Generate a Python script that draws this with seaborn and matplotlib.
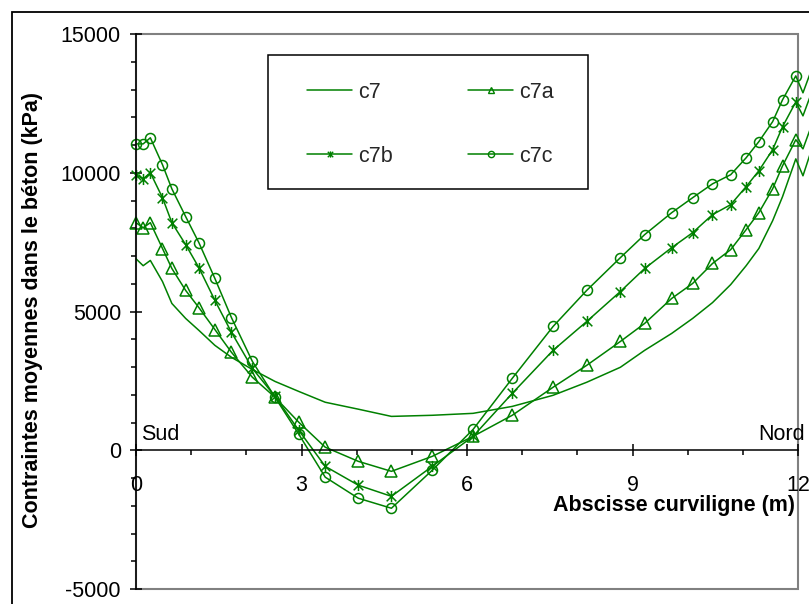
import numpy as np
import pandas as pd
import matplotlib
matplotlib.use("Agg")
import matplotlib.pyplot as plt
import seaborn as sns
from matplotlib.path import Path
from matplotlib.patches import Rectangle
from matplotlib.ticker import MultipleLocator

# ---------------- data ----------------
X = [0.0, 0.13, 0.26, 0.48, 0.65, 0.90, 1.14, 1.43, 1.73, 2.11, 2.52, 2.95, 3.43, 4.03,
     4.63, 5.37, 6.11, 6.82, 7.56, 8.17, 8.78, 9.22, 9.71, 10.09, 10.45, 10.78, 11.06,
     11.29, 11.54, 11.72, 11.96]
X_EXT = [12.09, 12.25]

C7 = [6900, 6650, 6840, 6080, 5290, 4750, 4320, 3780, 3350, 2910, 2480, 2120, 1730, 1480,
      1220, 1260, 1330, 1580, 1980, 2450, 2990, 3600, 4210, 4750, 5320, 5970, 6650, 7270,
      8270, 9140, 10500]
C7A = [8200, 8020, 8200, 7270, 6550, 5760, 5140, 4350, 3530, 2630, 1910, 1010, 110, -400,
       -760, -220, 500, 1260, 2270, 3060, 3920, 4570, 5470, 6010, 6730, 7230, 7950, 8560,
       9420, 10250, 11190]
C7B = [9930, 9780, 10000, 9100, 8200, 7410, 6580, 5400, 4250, 2950, 1940, 720, -580, -1260,
       -1660, -580, 500, 2050, 3600, 4640, 5720, 6550, 7300, 7840, 8490, 8850, 9500, 10070,
       10830, 11660, 12550]
C7C = [11040, 11040, 11260, 10290, 9420, 8420, 7480, 6190, 4780, 3200, 1910, 580, -970, -1730,
       -2090, -720, 750, 2590, 4460, 5760, 6940, 7770, 8560, 9100, 9600, 9930, 10540, 11120,
       11840, 12630, 13490]
C7_EXT = [9890, 10860]
C7A_EXT = [10860, 11730]
C7B_EXT = [12050, 12910]
C7C_EXT = [12880, 13740]

SERIES = ["c7", "c7a", "c7b", "c7c"]
XTICKS_MAJOR = 3
YTICKS_MAJOR = 5000

# ---------------- style ----------------
sns.set_theme(style="white")
plt.rcParams['font.family'] = ['Liberation Sans', 'DejaVu Sans']
plt.rcParams['axes.unicode_minus'] = False
FS = 15.5
GREEN = '#008000'
W, H = 809, 604

star = Path([(-1, -1), (1, 1), (-1, 1), (1, -1), (0, -1.15), (0, 1.15)],
            [Path.MOVETO, Path.LINETO, Path.MOVETO, Path.LINETO, Path.MOVETO, Path.LINETO])

fig = plt.figure(figsize=(W / 100, H / 100), dpi=100)
fig.patch.set_facecolor('white')
ax = fig.add_axes([136 / W, 15 / H, 662 / W, 555 / H])
ax.set_facecolor('white')

data_map = {
    "c7": (C7, C7_EXT, None, 0),
    "c7a": (C7A, C7A_EXT, '^', 8),
    "c7b": (C7B, C7B_EXT, star, 8),
    "c7c": (C7C, C7C_EXT, 'o', 7.2),
}
lines = {}
for name in SERIES:
    vals, ext, mk, ms = data_map[name]
    df = pd.DataFrame({"x": list(X) + list(X_EXT), "y": list(vals) + list(ext)})
    kw = dict(color=GREEN, linewidth=1.1, clip_on=False, legend=False)
    if mk is not None:
        kw.update(marker=mk, markersize=ms, markevery=list(range(len(X))))
    sns.lineplot(data=df, x="x", y="y", ax=ax, **kw)
    ln = ax.lines[-1]
    ln.set_label(name)
    if mk is not None:
        ln.set_markerfacecolor('none')
        ln.set_markeredgecolor(GREEN)
        ln.set_markeredgewidth(1.1)
    lines[name] = ln

# axes frame
ax.add_patch(Rectangle((0, 0), 1, 1, transform=ax.transAxes, fill=False,
                       ec='#808080', lw=1.5, clip_on=False, zorder=0.5))
ax.set_xlim(0, 12)
ax.set_ylim(-5000, 15000)
ax.spines['bottom'].set_position(('data', 0))
for s in ['top', 'right']:
    ax.spines[s].set_visible(False)
for s in ['left', 'bottom']:
    ax.spines[s].set_color('black')
    ax.spines[s].set_linewidth(1.1)
    ax.spines[s].set_zorder(3)

ax.xaxis.set_major_locator(MultipleLocator(XTICKS_MAJOR))
ax.xaxis.set_minor_locator(MultipleLocator(1))
ax.yaxis.set_major_locator(MultipleLocator(YTICKS_MAJOR))
ax.yaxis.set_minor_locator(MultipleLocator(1000))
ax.tick_params(which='both', bottom=True, left=True, top=False, right=False)
ax.tick_params(which='major', direction='inout', length=8.6, width=1.1, color='black',
               labelsize=FS, labelcolor='black')
ax.tick_params(which='minor', direction='out', length=3.6, width=1.1, color='black')
ax.tick_params(axis='x', which='major', pad=13.7)
ax.tick_params(axis='y', which='major', pad=6.5)
ax.grid(False)

ax.set_xlabel('Abscisse curviligne (m)', fontsize=FS, fontweight='bold', color='black',
              ha='right', va='center')
ax.xaxis.set_label_coords((795 - 136) / 662, (589 - 506) / 555)
ax.set_ylabel('Contraintes moyennes dans le béton (kPa)', fontsize=FS, fontweight='bold',
              color='black', ha='center', va='center')
ax.yaxis.set_label_coords((33 - 136) / 662, (589 - 310) / 555)

ax.text(0.09, 360, 'Sud', fontsize=FS, ha='left', va='baseline', color='black')
ax.text(12.13, 360, 'Nord', fontsize=FS, ha='right', va='baseline', color='black', clip_on=False)

# legend box + legend
ax.add_patch(Rectangle(((268 - 136) / 662, (589 - 189) / 555), (588 - 268) / 662, (189 - 55) / 555,
                       transform=ax.transAxes, fc='white', ec='black', lw=1.1, zorder=4,
                       clip_on=False))
order = ["c7", "c7b", "c7a", "c7c"]
leg = ax.legend(handles=[lines[n] for n in order], labels=order, ncol=2, frameon=False,
                loc='upper left', bbox_to_anchor=((307 - 136) / 662, (589 - 81.5) / 555),
                borderpad=0, borderaxespad=0, handlelength=45 / 21.5, handletextpad=6 / 21.5,
                columnspacing=3.5, labelspacing=2.01, fontsize=FS)
leg.set_zorder(5)
for h in leg.legend_handles:
    h.set_markersize(4.5)
    h.set_markeredgewidth(1.0)

# outer chart border
fig.add_artist(Rectangle((12 / W, -1), 2, 2 - 12 / H, transform=fig.transFigure,
                         fill=False, ec='black', lw=1.3))

fig.savefig('out.png', dpi=100)
